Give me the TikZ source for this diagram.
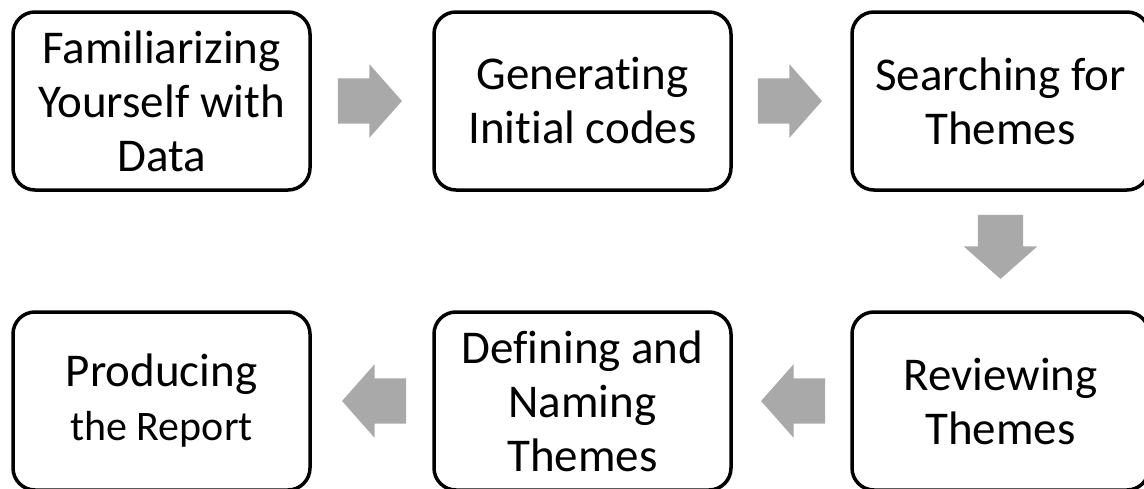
\documentclass[tikz,border=0pt]{standalone}
\usepackage{fontspec}
\setmainfont{Carlito}[Ligatures=NoCommon]
\usetikzlibrary{shapes.arrows,calc}
\definecolor{arrowgray}{HTML}{A9A9A9}
\tikzset{
  stagebox/.style={draw=black, line width=3.5pt, rounded corners=22pt, fill=white,
    minimum width=297pt, minimum height=178pt, inner sep=0pt, align=center,
    font=\fontsize{47}{54}\selectfont},
  flowarrow/.style={single arrow, fill=arrowgray, draw=none, inner xsep=0pt,
    inner ysep=22.5pt, minimum height=64pt, single arrow head extend=14pt,
    single arrow tip angle=97, anchor=tail},
  flowarrowv/.style={flowarrow, inner xsep=22.5pt, inner ysep=0pt},
}
\begin{document}
\begin{tikzpicture}[x=1pt,y=-1pt]
\useasboundingbox (0,0) rectangle (1144,488);
\clip (0,0) rectangle (1144,488);
\node[stagebox] (s1) at (161.5,101) {Familiarizing\\Yourself with\\Data};
\node[stagebox] (s2) at (582.5,101) {Generating\\Initial codes};
\node[stagebox] (s3) at (1000.5,101) {Searching for\\Themes};
\node[stagebox] (s4) at (1000.5,401) {Reviewing\\Themes};
\node[stagebox] (s5) at (582.5,401) {Defining and\\Naming\\Themes};
\node[stagebox] (s6) at (161.5,401) {Producing\\{\fontsize{42}{54}\selectfont the Report}};
\node[flowarrow] (a1) at ($(s1.east)+(26,0)$) {};
\node[flowarrow] (a2) at ($(s2.east)+(25,0)$) {};
\node[flowarrowv, shape border rotate=270] (a3) at ($(s3.south)+(0,23)$) {};
\node[flowarrow, shape border rotate=180] (a4) at ($(s4.west)+(-25,0)$) {};
\node[flowarrow, shape border rotate=180] (a5) at ($(s5.west)+(-26,0)$) {};
\end{tikzpicture}
\end{document}
